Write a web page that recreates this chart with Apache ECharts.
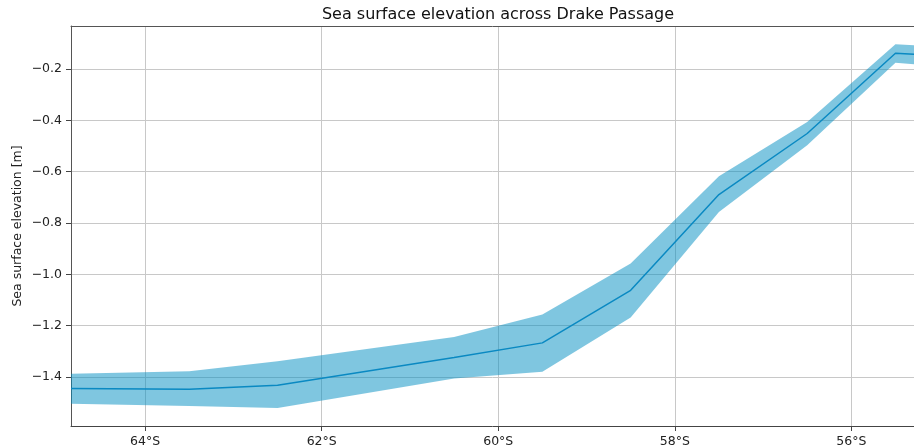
<!DOCTYPE html>
<html>
<head>
<meta charset="utf-8">
<script src="https://cdn.jsdelivr.net/npm/echarts@6/dist/echarts.min.js"></script>
<style>html,body{margin:0;padding:0;background:#fff;}#c{width:914px;height:448px;}</style>
</head>
<body>
<div id="c"></div>
<script>
// Latitude (degrees, negative = south)
var latitudes = [-64.84, -63.5, -62.5, -60.5, -59.5, -58.5, -57.5, -56.5, -55.5, -55.29];
// Mean sea surface elevation [m]
var meanSSE = [-1.445, -1.448, -1.432, -1.324, -1.267, -1.062, -0.689, -0.451, -0.138, -0.142];
// Upper / lower bounds of the shaded band [m]
var upperSSE = [-1.387, -1.378, -1.339, -1.244, -1.156, -0.958, -0.618, -0.406, -0.103, -0.107];
var lowerSSE = [-1.504, -1.513, -1.521, -1.406, -1.380, -1.168, -0.757, -0.497, -0.175, -0.181];
// Tick values
var xTicks = [-64, -62, -60, -58, -56];
var yTicks = [-1.4, -1.2, -1.0, -0.8, -0.6, -0.4, -0.2];

var FONT = 'DejaVu Sans';
var chart = echarts.init(document.getElementById('c'), null, {renderer: 'canvas'});

var meanData = latitudes.map(function (x, i) { return [x, meanSSE[i]]; });

chart.setOption({
  animation: false,
  backgroundColor: '#ffffff',
  title: {
    text: 'Sea surface elevation across Drake Passage',
    left: 493, top: 2, textAlign: 'center',
    textStyle: {fontFamily: FONT, fontSize: 16, fontWeight: 'normal', color: '#111'}
  },
  grid: {left: 71, right: 0, top: 26, bottom: 22, containLabel: false, outerBoundsMode: 'none'},
  xAxis: [{
    type: 'value', min: -64.84, max: -55.29,
    axisLine: {show: true, onZero: false, lineStyle: {color: '#444', width: 1}},
    axisTick: {show: true, length: 5, customValues: xTicks, lineStyle: {color: '#444'}},
    axisLabel: {
      customValues: xTicks, margin: 9,
      fontFamily: FONT, fontSize: 12.5, color: '#222',
      formatter: function (v) { return Math.abs(v) + '°S'; }
    },
    splitLine: {show: true, lineStyle: {color: '#c8c8c8', width: 1}}
  }, {
    type: 'value', position: 'top', min: -64.84, max: -55.29,
    axisLine: {show: true, onZero: false, lineStyle: {color: '#555', width: 1}},
    axisTick: {show: false}, axisLabel: {show: false}, splitLine: {show: false}
  }],
  yAxis: {
    type: 'value', min: -1.591, max: -0.032,
    name: 'Sea surface elevation [m]', nameLocation: 'middle', nameGap: 47,
    nameMoveOverlap: false,
    nameTextStyle: {fontFamily: FONT, fontSize: 12.5, color: '#222'},
    axisLine: {show: true, onZero: false, lineStyle: {color: '#555', width: 1}},
    axisTick: {show: true, length: 5, customValues: yTicks, lineStyle: {color: '#444'}},
    axisLabel: {
      customValues: yTicks, margin: 9,
      fontFamily: FONT, fontSize: 12.5, color: '#222',
      formatter: function (v) { return v.toFixed(1).replace('-', '\u2212'); }
    },
    splitLine: {show: true, lineStyle: {color: '#c8c8c8', width: 1}}
  },
  series: [{
    type: 'custom',
    data: [0],
    clip: true,
    z: 2,
    renderItem: function (params, api) {
      var pts = [];
      for (var i = 0; i < latitudes.length; i++) pts.push(api.coord([latitudes[i], upperSSE[i]]));
      for (var j = latitudes.length - 1; j >= 0; j--) pts.push(api.coord([latitudes[j], lowerSSE[j]]));
      return {
        type: 'polygon',
        shape: {points: pts},
        style: {fill: 'rgba(0,142,194,0.5)', stroke: 'none'}
      };
    }
  }, {
    type: 'line',
    data: meanData,
    symbol: 'none',
    z: 3,
    lineStyle: {color: '#0a89c2', width: 1.5}
  }]
});
</script>
</body>
</html>
